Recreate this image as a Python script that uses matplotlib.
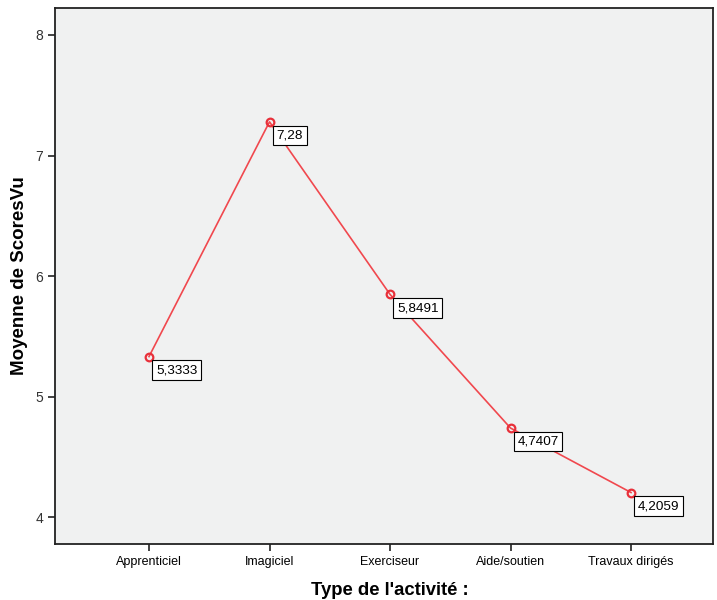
import matplotlib
matplotlib.use("Agg")
import matplotlib.pyplot as plt

plt.rcParams['font.family'] = ['Liberation Sans', 'DejaVu Sans']

categories = ['Apprenticiel', 'Imagiciel', 'Exerciseur', 'Aide/soutien', 'Travaux dirigés']
means = [5.3333, 7.28, 5.8491, 4.7407, 4.2059]
labels = ['5,3333', '7,28', '5,8491', '4,7407', '4,2059']
yticks = [4, 5, 6, 7, 8]

fig = plt.figure(figsize=(7.17, 6.0), dpi=100)
ax = fig.add_axes([0.0767, 0.0933, 0.9177, 0.8934])
ax.set_facecolor('#F0F1F1')

xs = list(range(len(categories)))
ax.plot(xs, means, color='#F0484E', lw=1.2, marker='o', ms=5.5,
        mfc='none', mec='#E8303A', mew=1.6, zorder=3)

# étiquettes de valeurs (style SPSS)
for x, y, t in zip(xs, means, labels):
    ax.annotate(t, (x, y), xytext=(5, -5.5), textcoords='offset points',
                ha='left', va='top', fontsize=9.7, color='black',
                bbox=dict(boxstyle='square,pad=0.28', fc='white', ec='black', lw=0.8),
                zorder=4)

ax.set_xlim(-0.78, 4.68)
ax.set_ylim(3.779, 8.224)
ax.set_xticks(xs)
ax.set_xticklabels(categories, fontsize=9)
ax.set_yticks(yticks)
ax.set_yticklabels([str(v) for v in yticks], fontsize=10, color='#333333')
ax.tick_params(axis='both', direction='out', length=5, width=1.2, color='#222222')
for s in ax.spines.values():
    s.set_linewidth(1.3)
    s.set_color('#222222')

ax.set_ylabel('Moyenne de ScoresVu', fontsize=13.5, fontweight='bold')
ax.yaxis.set_label_coords(-0.041, 0.5)
ax.set_xlabel("Type de l'activité :", fontsize=13.3, fontweight='bold')
ax.xaxis.set_label_coords(0.509, -0.071)

fig.savefig('out.png', dpi=100)
